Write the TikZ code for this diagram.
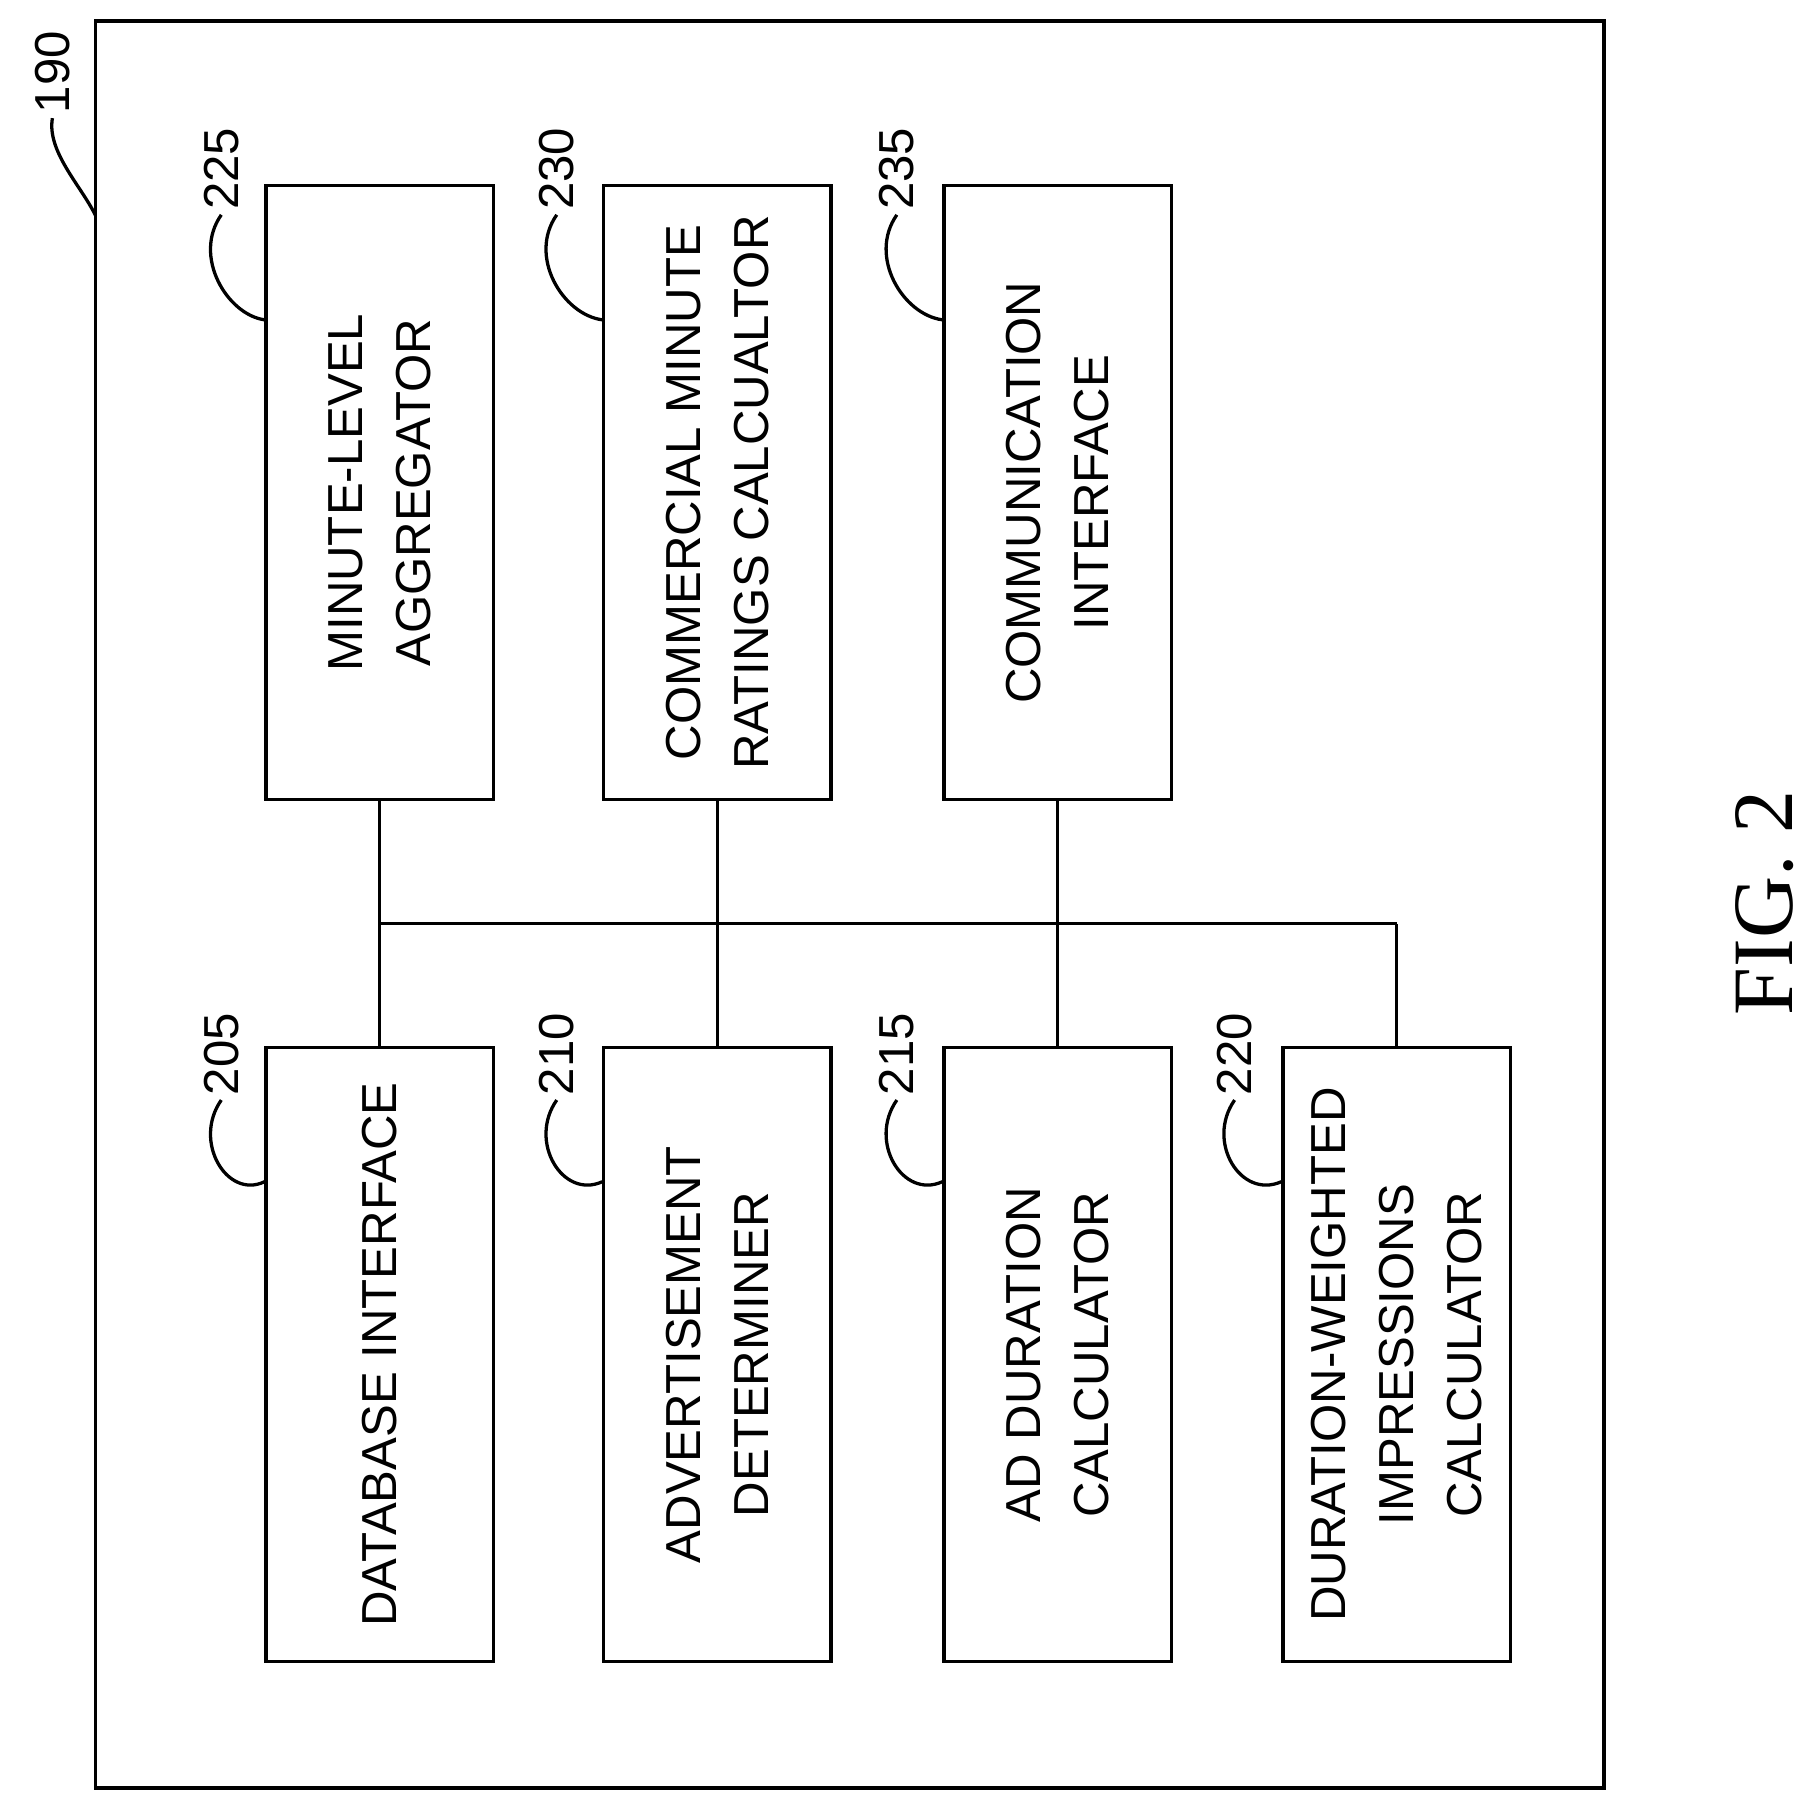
\documentclass[tikz,border=0pt]{standalone}
\usepackage{fontspec}
\setmainfont{Liberation Sans}
\newfontfamily\figfont{Liberation Serif}
\usetikzlibrary{calc}
\tikzset{
  blk/.style={draw,thick,rotate=90,minimum width=5.27cm,minimum height=1.95cm,align=center,font=\fontsize{12}{16.5}\selectfont},
  num/.style={rotate=90,font=\fontsize{12}{15}\selectfont,inner sep=1pt},
  lead/.style={thick}
}
\begin{document}
\begin{tikzpicture}[x=0.01cm,y=-0.01cm]
\useasboundingbox (0,0) rectangle (1560,1550);
\draw[thick] (82,18) rectangle (1377,1535);
\node[num] (n190) at (45,62){190};
\draw[lead] (n190.west) .. controls (40,130) and (70,160) .. (82,185);
% upper row
\node[blk] (b225) at (326,423){MINUTE-LEVEL\\AGGREGATOR};
\node[blk] (b230) at (616,423){COMMERCIAL MINUTE\\RATINGS CALCUALTOR};
\node[blk] (b235) at (908,423){COMMUNICATION\\INTERFACE};
% lower row
\node[blk] (b205) at (326,1163){DATABASE INTERFACE};
\node[blk] (b210) at (616,1163){ADVERTISEMENT\\DETERMINER};
\node[blk] (b215) at (908,1163){AD DURATION\\CALCULATOR};
\node[blk] (b220) at (1199,1163){DURATION-WEIGHTED\\IMPRESSIONS\\CALCULATOR};
% reference numbers
\foreach \n/\x/\y in {225/190/145,230/478/145,235/770/145,205/190/905,210/478/905,215/770/905,220/1060/905}{
  \node[num] (l\n) at (\x,\y){\n};
  \draw[lead] (l\n.west) .. controls (\x-25,\y+75) and (\x+5,\y+125) .. ($(b\n.north east)!0.22!(b\n.north west)$);
}
% bus
\coordinate (bus) at (0,793);
\draw[thick] (b225.west |- bus) -- (b220.east |- bus);
\foreach \t in {225,230,235}{\draw[thick] (b\t.west) -- (b\t.west |- bus);}
\foreach \t in {205,210,215,220}{\draw[thick] (b\t.east) -- (b\t.east |- bus);}
\node[rotate=90,font=\figfont\fontsize{21}{24}\selectfont] (fig) at (1515,775){FIG. 2};
\end{tikzpicture}
\end{document}
